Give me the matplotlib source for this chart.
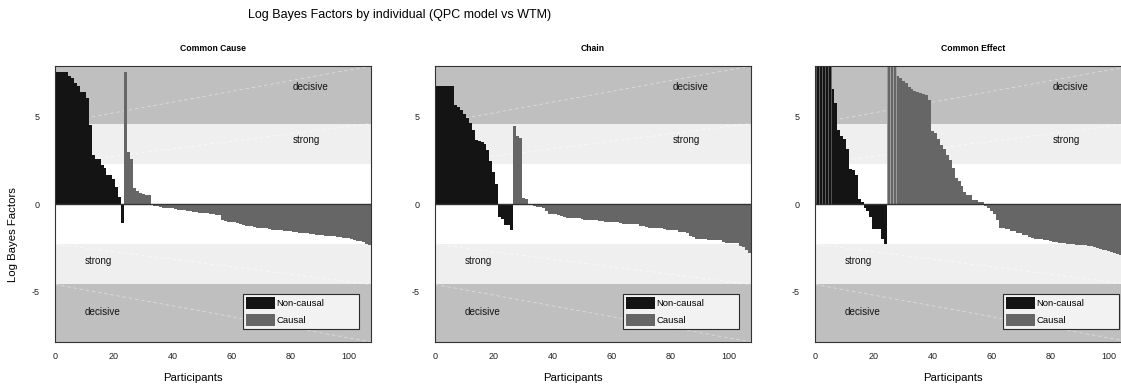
import matplotlib
matplotlib.use("Agg")
import matplotlib.pyplot as plt
from matplotlib.patches import Patch
import numpy as np

plt.rcParams['font.family'] = ['Liberation Sans', 'DejaVu Sans']
plt.rcParams['axes.unicode_minus'] = False

panel_titles = ["Common Cause", "Chain", "Common Effect"]
suptitle = "Log Bayes Factors by individual (QPC model vs WTM)"
legend_labels = ["Non-causal", "Causal"]
xticks = [0, 20, 40, 60, 80, 100]
yticks = [-5, 0, 5]
strong_threshold = 2.303   # ln(10)
decisive_threshold = 4.605  # ln(100)

# ---- Common Cause ----
cc_noncausal = [7.53, 7.53, 7.53, 7.53, 7.34, 7.2, 6.93, 6.78, 6.4, 6.4, 6.05, 4.5,
                2.83, 2.55, 2.55, 2.22, 2.07, 1.65, 1.65, 1.42, 0.98, 0.4, -1.07]
cc_causal = [7.53, 2.99, 2.6, 0.92, 0.77, 0.61, 0.56, 0.54, 0.54,
             -0.03, -0.12, -0.14, -0.2, -0.22, -0.23, -0.24, -0.25,
             -0.3, -0.32, -0.34, -0.35, -0.4, -0.42, -0.43, -0.44,
             -0.5, -0.52, -0.53, -0.54, -0.58, -0.6, -0.61, -0.63,
             -0.9, -1.0, -1.02, -1.04, -1.05, -1.1, -1.13,
             -1.22, -1.24, -1.26, -1.28, -1.34, -1.36, -1.38, -1.39, -1.4,
             -1.44, -1.46, -1.47, -1.48, -1.5, -1.54, -1.56, -1.57, -1.58, -1.6,
             -1.64, -1.66, -1.67, -1.68, -1.7, -1.74, -1.75, -1.77, -1.78,
             -1.82, -1.84, -1.85, -1.86, -1.88, -1.89, -1.93, -1.95, -1.96, -1.98,
             -2.05, -2.09, -2.12, -2.2, -2.27, -2.34]

# ---- Chain ----
ch_noncausal = [6.78, 6.78, 6.78, 6.78, 6.78, 6.78, 5.67, 5.57, 5.38, 5.13, 4.9, 4.62,
                4.23, 3.68, 3.6, 3.56, 3.41, 3.08, 2.45, 1.84, 1.17,
                -0.75, -0.84, -1.19, -1.19, -1.51]
ch_causal = [4.48, 3.9, 3.79, 0.34, 0.3,
             -0.05, -0.08, -0.1, -0.17, -0.19, -0.21, -0.42, -0.55, -0.57, -0.59,
             -0.64, -0.66, -0.76, -0.78, -0.79, -0.8, -0.81, -0.82,
             -0.88, -0.9, -0.91, -0.92, -0.93, -0.94, -0.95,
             -1.0, -1.01, -1.02, -1.03, -1.04, -1.05, -1.06,
             -1.12, -1.13, -1.14, -1.15, -1.16, -1.17, -1.26, -1.28, -1.3,
             -1.35, -1.37, -1.38, -1.39, -1.4, -1.44, -1.46, -1.47, -1.48, -1.5,
             -1.58, -1.6, -1.62, -1.64, -1.84, -1.87,
             -2.0, -2.01, -2.02, -2.03, -2.04, -2.05, -2.06, -2.07, -2.08,
             -2.2, -2.22, -2.23, -2.24, -2.25, -2.26, -2.4, -2.45, -2.62, -2.82]

# ---- Common Effect ----
ce_noncausal = [9.5, 9.5, 9.5, 9.5, 9.5, 6.59, 5.77, 4.23, 3.9, 3.72, 3.14, 2.03,
                1.93, 1.65, 0.27, 0.11, -0.23, -0.42, -0.75, -1.42, -1.42, -1.42,
                -1.99, -2.28]
ce_causal = [9.5, 9.5, 9.5, 7.3, 7.2, 7.05, 6.92, 6.72, 6.59, 6.48, 6.4, 6.34, 6.32,
             6.25, 5.96, 4.18, 4.04, 3.72, 3.37, 3.14, 2.8, 2.51, 2.07, 1.46,
             1.3, 1.03, 0.71, 0.52, 0.5, 0.23, 0.21, 0.13, 0.12,
             -0.1, -0.25, -0.42, -0.6, -0.9, -1.36, -1.38, -1.42, -1.45,
             -1.52, -1.54, -1.65, -1.68, -1.75, -1.77, -1.9, -1.93,
             -1.98, -2.0, -2.02, -2.06, -2.08, -2.13, -2.15, -2.17,
             -2.22, -2.24, -2.26, -2.29, -2.3, -2.31, -2.33, -2.34,
             -2.36, -2.37, -2.38, -2.39, -2.48, -2.5, -2.6, -2.62, -2.64,
             -2.71, -2.73, -2.82, -2.88, -2.91, -2.95, -3.0, -3.05]

panels = [(cc_noncausal, cc_causal), (ch_noncausal, ch_causal), (ce_noncausal, ce_causal)]

W, H = 1121, 385
fig = plt.figure(figsize=(W / 100, H / 100), dpi=100)

C_DEC = '#bfbfbf'
C_STR = '#efefef'
C_NC = '#141414'
C_C = '#666666'
YMAX = 7.9

lefts = [55, 435, 815]
ax_w, ax_top, ax_bot = 316, 66, 342

for i, (nc, c) in enumerate(panels):
    ax = fig.add_axes([lefts[i] / W, 1 - ax_bot / H, ax_w / W, (ax_bot - ax_top) / H])
    n_nc, n_c = len(nc), len(c)
    xmax = n_nc + n_c + 0.5
    ax.set_xlim(0, xmax)
    ax.set_ylim(-YMAX, YMAX)
    # evidence bands
    ax.axhspan(decisive_threshold, YMAX + 1, color=C_DEC, lw=0, zorder=0)
    ax.axhspan(strong_threshold, decisive_threshold, color=C_STR, lw=0, zorder=0)
    ax.axhspan(-YMAX - 1, -decisive_threshold, color=C_DEC, lw=0, zorder=0)
    ax.axhspan(-decisive_threshold, -strong_threshold, color=C_STR, lw=0, zorder=0)
    # faint patch diagonals
    dkw = dict(color='white', ls=(0, (5, 4)), lw=0.5, alpha=0.55, zorder=0.5)
    ax.plot([0, xmax], [decisive_threshold, YMAX], **dkw)
    ax.plot([0, xmax], [-decisive_threshold, -YMAX], **dkw)
    dkw['alpha'] = 0.8
    ax.plot([0, xmax], [strong_threshold, decisive_threshold], **dkw)
    ax.plot([0, xmax], [-strong_threshold, -decisive_threshold], **dkw)

    x_nc = np.arange(1, n_nc + 1)
    x_c = np.arange(n_nc + 1, n_nc + n_c + 1)
    nc_arr = np.array(nc)
    c_arr = np.array(c)
    ax.bar(x_nc, nc_arr, width=1.0, color=C_NC, lw=0, zorder=2)
    ax.bar(x_c, c_arr, width=1.0, color=C_C, lw=0, zorder=2)
    # clipped bars show edge stripes
    clip_nc = nc_arr > YMAX
    clip_c = c_arr > YMAX
    if clip_nc.any():
        ax.bar(x_nc[clip_nc], nc_arr[clip_nc], width=1.0, color=C_NC,
               edgecolor='#707070', lw=0.5, zorder=2.1)
    if clip_c.any():
        ax.bar(x_c[clip_c], c_arr[clip_c], width=1.0, color=C_C,
               edgecolor='#b0b0b0', lw=0.5, zorder=2.1)

    ax.axhline(0, color='#333333', lw=1.0, zorder=3)

    # band labels
    tkw = dict(fontsize=7.1, color='#111111', va='center', ha='left', zorder=4)
    ax.text(81, 6.67, 'decisive', **tkw)
    ax.text(81, 3.68, 'strong', **tkw)
    ax.text(10, -3.26, 'strong', **tkw)
    ax.text(10, -6.19, 'decisive', **tkw)

    ax.set_xticks(xticks)
    ax.set_yticks(yticks)
    ax.tick_params(length=0, labelsize=6.5, colors='#222222', pad=7)
    ax.tick_params(axis='y', pad=11)
    for s in ax.spines.values():
        s.set_color('#333333')
        s.set_linewidth(0.8)
        s.set_zorder(5)

    ax.text(0.5, 1.065, panel_titles[i], transform=ax.transAxes, ha='center',
            va='center', fontsize=6.2, fontweight='bold')
    fig.text((lefts[i] + ax_w / 2 - 20) / W, 1 - 378 / H, 'Participants',
             ha='center', va='center', fontsize=8.2)

    handles = [Patch(facecolor=C_NC, edgecolor='none'), Patch(facecolor=C_C, edgecolor='none')]
    leg = ax.legend(handles, legend_labels, loc='lower left',
                    bbox_to_anchor=(188 / ax_w, 13 / 276, 116 / ax_w, 0.15),
                    mode='expand', fontsize=6.8, frameon=True, fancybox=False,
                    handlelength=3.0, handleheight=1.55, handletextpad=0.2,
                    labelspacing=0.5, borderpad=0.35, borderaxespad=0)
    leg.get_frame().set_edgecolor('black')
    leg.get_frame().set_linewidth(0.8)
    leg.set_zorder(6)

fig.text(13 / W, 1 - 235 / H, 'Log Bayes Factors', rotation=90, ha='center',
         va='center', fontsize=8.2)
fig.text(400 / W, 1 - 15 / H, suptitle, ha='center', va='center', fontsize=9)

fig.savefig('out.png', dpi=100)
